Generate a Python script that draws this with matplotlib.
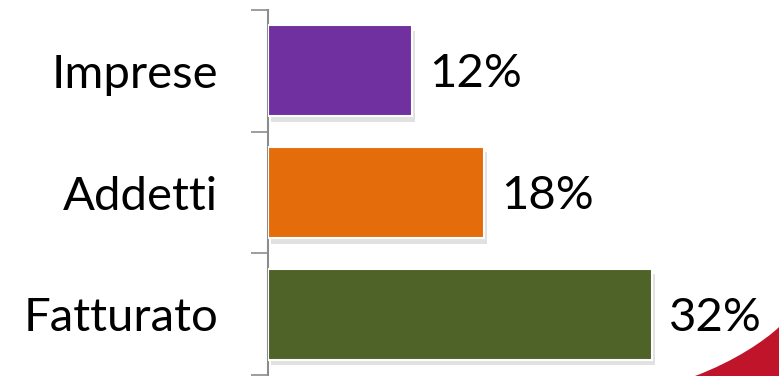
import numpy as np
import matplotlib.pyplot as plt
import matplotlib.patheffects as pe
from matplotlib.patches import PathPatch
from matplotlib.path import Path

categories = ["Fatturato", "Addetti", "Imprese"]
values = [32, 18, 12]
colors = ["#4F6228", "#E46C0A", "#7030A0"]

plt.rcParams['font.family'] = ['Lato', 'DejaVu Sans']

fig = plt.figure(figsize=(7.79, 3.76), dpi=100)
ax = fig.add_axes([268/779, 1/376, 511/779, 365/376])

# red swoosh decoration bottom-right
verts = [(695/779, 0), (735/779, 0.04), (765/779, 0.095), (1.0, 0.13),
         (1.0, 0), (695/779, 0)]
codes = [Path.MOVETO, Path.CURVE4, Path.CURVE4, Path.CURVE4,
         Path.LINETO, Path.CLOSEPOLY]
fig.patches.append(PathPatch(Path(verts, codes), transform=fig.transFigure,
                             facecolor="#C0142B", edgecolor="none", zorder=0))

y = np.arange(len(categories))
bars = ax.barh(y, values, height=0.75, color=colors, edgecolor="white",
               linewidth=1.5, zorder=3)
for b in bars:
    b.set_path_effects([pe.SimplePatchShadow(offset=(2, -4), shadow_rgbFace="#aaaaaa", alpha=0.35),
                        pe.Normal()])

for yi, v in zip(y, values):
    ax.text(v + 1.4, yi - 0.03, f"{v}%", va="center", ha="left", fontsize=34)

ax.set_xlim(0, 511/12)
ax.set_ylim(-0.5, 2.5)
ax.set_yticks(y)
ax.set_yticklabels(categories, fontsize=34)
ax.set_yticks(np.arange(-0.5, 3, 1), minor=True)
ax.tick_params(axis="y", which="major", length=0, pad=36)
ax.tick_params(axis="y", which="minor", length=12, width=1.2, color="#8c8c8c")
ax.set_xticks([])
for s in ["top", "right", "bottom"]:
    ax.spines[s].set_visible(False)
ax.spines["left"].set_color("#8c8c8c")
ax.spines["left"].set_linewidth(1.5)
ax.patch.set_alpha(0)

fig.savefig("out.png", dpi=100)
